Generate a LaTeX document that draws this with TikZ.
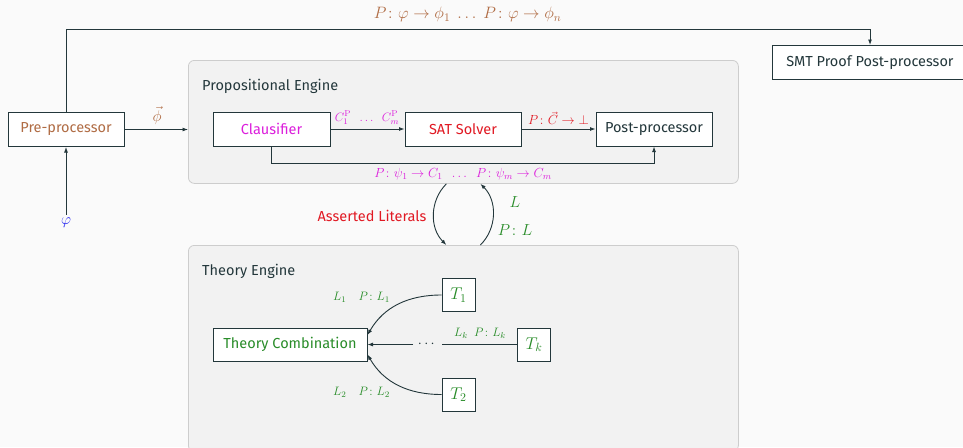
\RequirePackage{fix-cm}
\documentclass[tikz,border=0pt]{standalone}
\usepackage{amsmath}
\usepackage[no-math]{fontspec}
\setmainfont{Fira Sans}
\usetikzlibrary{arrows.meta,calc}
\definecolor{bgc}{RGB}{250,250,250}
\definecolor{dark}{RGB}{35,55,59}
\definecolor{panelfill}{RGB}{242,242,242}
\definecolor{panelline}{RGB}{205,205,205}
\definecolor{brn}{RGB}{176,108,68}
\definecolor{grn}{RGB}{40,140,40}
\definecolor{mag}{RGB}{220,30,220}
\definecolor{rd}{RGB}{225,25,35}
\definecolor{blu}{RGB}{40,40,240}
\newcommand{\fsz}[1]{\fontsize{#1}{#1}\selectfont}
\begin{document}
\begin{tikzpicture}[x=1pt,y=-1pt,
  every node/.style={font=\fsz{14.5}},
  panel/.style={draw=panelline, fill=panelfill, rounded corners=6pt, line width=0.8pt, anchor=north west, inner sep=0pt},
  box/.style={draw=dark, line width=1pt, fill=white, minimum height=34pt, inner sep=0pt},
  tbox/.style={box, minimum width=33pt, minimum height=33pt, text=grn, font=\fsz{17}},
  arr/.style={draw=dark, line width=0.9pt, -{Latex[length=5.5pt,width=4pt]}},
  ln/.style={draw=dark, line width=0.9pt},
  lblsmall/.style={font=\fsz{12.2}, inner sep=0pt},
  lblmid/.style={font=\fsz{13.2}, inner sep=0pt},
  thlbl/.style={font=\fsz{12.2}, text=grn, inner sep=0pt}
]
\fill[bgc] (0,0) rectangle (963,447);
\useasboundingbox (0,0) rectangle (963,447);

% panels
\node[panel, minimum width=550pt, minimum height=123pt] (prop) at (188,60) {};
\node[panel, minimum width=550pt, minimum height=206pt] (theo) at (188,245) {};
\node[anchor=west, inner sep=0pt, text=dark] (propt) at (202,86) {Propositional Engine};
\node[anchor=west, inner sep=0pt, text=dark] (theot) at (202,271) {Theory Engine};

% boxes
\node[box, minimum width=116pt, text=brn] (pre) at (66,129.5) {Pre-processor};
\node[box, minimum width=196pt, text=dark] (smt) at (870,62.5) {SMT Proof Post-processor};
\node[box, minimum width=117pt, text=mag] (cla) at (271.5,129) {Clausifier};
\node[box, minimum width=116pt, text=rd] (sat) at (463,129) {SAT Solver};
\node[box, minimum width=116pt, text=dark] (post) at (654,129) {Post-processor};
\node[box, minimum width=154pt, minimum height=33pt, text=grn] (tc) at (290,344.5) {Theory Combination};
\node[tbox] (t1) at (458.5,295) {$T_1$};
\node[tbox] (tk) at (534,344.5) {$T_k$};
\node[tbox] (t2) at (458.5,394.5) {$T_2$};

% top path
\coordinate (topy) at (0,29);
\draw[arr] (pre.north) |- (topy -| smt.north) -- (smt.north);
\node[text=brn, font=\fsz{16.5}] (toplbl) at (467.5,14.5) {$P\colon\varphi\to\phi_1\ \ldots\ P\colon\varphi\to\phi_n$};

% input
\node[text=blu, font=\fsz{15.5}] (phi) at (66,223) {$\varphi$};
\draw[arr] (phi.north) -- (pre.south);
\draw[arr] (pre.east) -- (pre.east -| prop.west);
\node[text=brn, font=\fsz{15.5}, inner sep=0pt] (phivec) at (157,115.5) {$\vec{\phi}$};

% propositional
\draw[arr] (cla) -- (sat);
\node[lblsmall, text=mag] (clbl) at (367,117.5) {$C_1^{\mathrm{P}}\ \ \ldots\ \ C_m^{\mathrm{P}}$};
\draw[arr] (sat) -- (post);
\node[lblmid, text=rd] (slbl) at (558.5,118) {$P\colon\vec{C}\to\bot$};
\coordinate (loopy) at (0,163);
\draw[arr] (cla.south) |- (loopy -| post.south) -- (post.south);
\node[lblmid, text=mag] (plbl) at (463,174.5) {$P\colon\psi_1\to C_1\ \ \ldots\ \ P\colon\psi_m\to C_m$};

% between engines
\draw[arr] ([xshift=-17pt]prop.south) to[bend right=45] ([xshift=-17pt]theo.north);
\draw[arr] ([xshift=17pt]theo.north) to[bend right=45] ([xshift=17pt]prop.south);
\node[text=rd] (asl) at (372,215.5) {Asserted Literals};
\node[text=grn, font=\fsz{16}] (llbl) at (515,202) {$L$};
\node[text=grn, font=\fsz{16}] (pllbl) at (515,230) {$P\colon L$};

% theory
\draw[arr] (t1.west) to[out=180,in=60] ([yshift=9.5pt]tc.east);
\draw[arr] (t2.west) to[out=180,in=-60] ([yshift=-10pt]tc.east);
\node[inner xsep=4.5pt, inner ysep=0pt, text=dark] (dots) at (427.5,344.5) {$\cdots$};
\draw[ln] (tk.west) -- (dots.east);
\draw[arr] (dots.west) -- (tc.east);
\node[thlbl] (l1) at (361.5,297) {$L_1\quad P\colon L_1$};
\node[thlbl] (lk) at (480,333) {$L_k\ \ P\colon L_k$};
\node[thlbl] (l2) at (361.5,392) {$L_2\quad P\colon L_2$};
\end{tikzpicture}
\end{document}
